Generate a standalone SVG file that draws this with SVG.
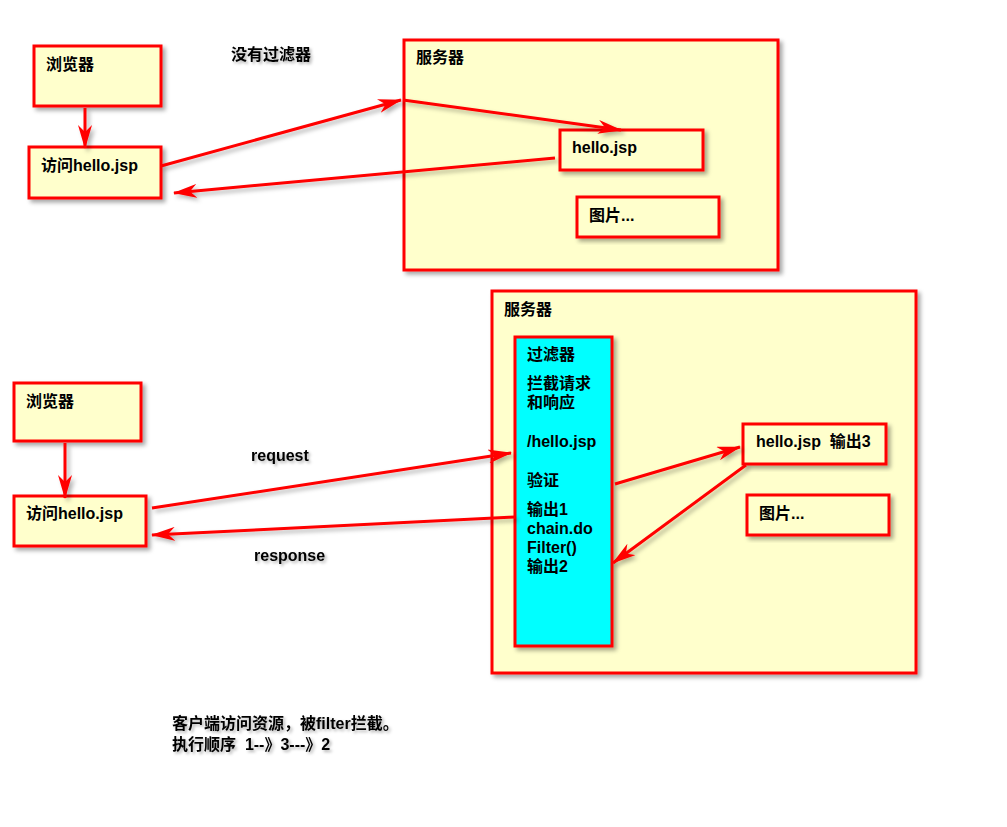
<svg xmlns="http://www.w3.org/2000/svg" width="1007" height="827" viewBox="0 0 1007 827">
<defs>
<filter id="sh" x="-10%" y="-10%" width="130%" height="130%">
<feDropShadow dx="3" dy="3" stdDeviation="2" flood-color="#000" flood-opacity="0.35"/>
</filter>
<filter id="lsh" filterUnits="userSpaceOnUse" x="0" y="0" width="1007" height="827">
<feDropShadow dx="3" dy="3" stdDeviation="2" flood-color="#000" flood-opacity="0.3"/>
</filter>
<filter id="tsh" x="-10%" y="-30%" width="130%" height="180%">
<feDropShadow dx="2" dy="2" stdDeviation="1.5" flood-color="#000" flood-opacity="0.3"/>
</filter>
<marker id="ah" viewBox="0 0 24 14" refX="23" refY="7" markerWidth="24" markerHeight="14" markerUnits="userSpaceOnUse" orient="auto">
<path d="M0,0 L24,7 L0,14 L7,7 Z" fill="#ff0000"/>
</marker>
</defs>
<style>
.box{fill:#ffffcc;stroke:#ff0000;stroke-width:3;filter:url(#sh)}
.cyan{fill:#00ffff;stroke:#ff0000;stroke-width:3;filter:url(#sh)}
text{font-family:"Liberation Sans","Noto Sans CJK SC",sans-serif;font-size:16px;font-weight:bold;fill:#000;white-space:pre}
.lbl{filter:url(#tsh)}
.c{fill:none;stroke:#ff0000;stroke-width:3}
#connectors{filter:url(#lsh)}
</style>
<rect width="1007" height="827" fill="#ffffff"/>

<g id="server1"><rect class="box" x="404" y="40" width="374" height="230"/><text x="416" y="63">服务器</text></g>
<g id="browser1"><rect class="box" x="34" y="46" width="127" height="60"/><text x="46" y="70">浏览器</text></g>
<g id="visit1"><rect class="box" x="29" y="147" width="132" height="51"/><text x="41" y="171">访问hello.jsp</text></g>
<g id="hello1"><rect class="box" x="560" y="130" width="143" height="40"/><text x="572" y="153">hello.jsp</text></g>
<g id="img1"><rect class="box" x="577" y="197" width="142" height="40"/><text x="589" y="221">图片...</text></g>
<g id="title1"><text class="lbl" x="231" y="60">没有过滤器</text></g>

<g id="server2"><rect class="box" x="492" y="291" width="424" height="382"/><text x="504" y="315">服务器</text></g>
<g id="filter"><rect class="cyan" x="515" y="337" width="97" height="309"/>
<text x="527" y="360">过滤器</text>
<text x="527" y="389">拦截请求</text>
<text x="527" y="408">和响应</text>
<text x="527" y="447">/hello.jsp</text>
<text x="527" y="486">验证</text>
<text x="527" y="515">输出1</text>
<text x="527" y="534">chain.do</text>
<text x="527" y="553">Filter()</text>
<text x="527" y="572">输出2</text>
</g>
<g id="hello2"><rect class="box" x="743" y="424" width="143" height="40"/><text x="756" y="447">hello.jsp  输出3</text></g>
<g id="img2"><rect class="box" x="747" y="495" width="142" height="40"/><text x="759" y="519">图片...</text></g>
<g id="browser2"><rect class="box" x="14" y="383" width="127" height="58"/><text x="26" y="407">浏览器</text></g>
<g id="visit2"><rect class="box" x="14" y="496" width="132" height="50"/><text x="26" y="519">访问hello.jsp</text></g>

<g id="connectors">
<line class="c" x1="85" y1="108" x2="85" y2="148" marker-end="url(#ah)"/>
<line class="c" x1="161" y1="166" x2="401" y2="100" marker-end="url(#ah)"/>
<line class="c" x1="403" y1="100" x2="621" y2="130" marker-end="url(#ah)"/>
<line class="c" x1="555" y1="158" x2="174" y2="193" marker-end="url(#ah)"/>
<line class="c" x1="65" y1="443" x2="65" y2="498" marker-end="url(#ah)"/>
<line class="c" x1="152" y1="508" x2="511" y2="453" marker-end="url(#ah)"/>
<line class="c" x1="515" y1="517" x2="152" y2="535" marker-end="url(#ah)"/>
<line class="c" x1="615" y1="484" x2="740" y2="447" marker-end="url(#ah)"/>
<line class="c" x1="746" y1="465" x2="613" y2="563" marker-end="url(#ah)"/>
</g>

<g id="labels">
<text class="lbl" x="251" y="461">request</text>
<text class="lbl" x="254" y="561">response</text>
<text class="lbl" x="172" y="729">客户端访问资源，被filter拦截。</text>
<text class="lbl" x="172" y="750">执行顺序  1--》3---》2</text>
</g>
</svg>
